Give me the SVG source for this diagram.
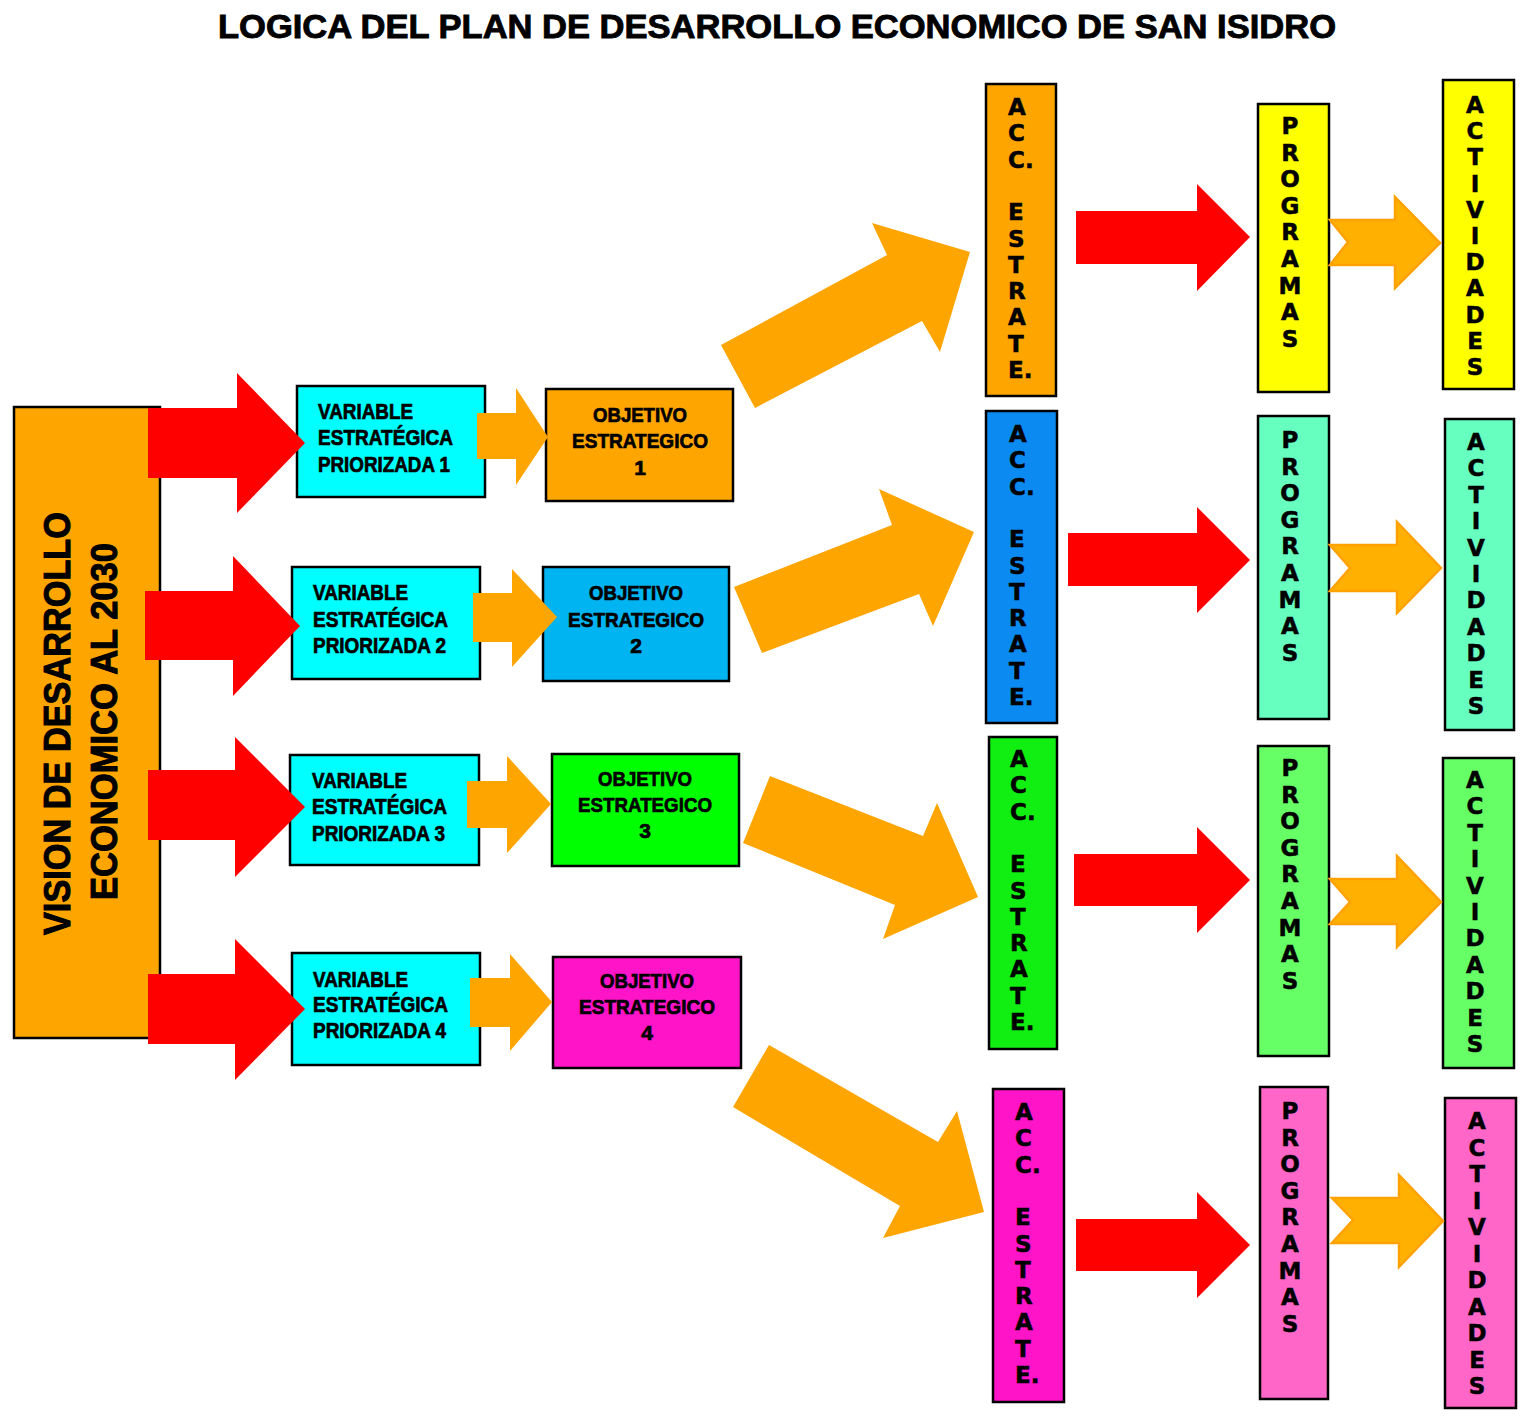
<svg xmlns="http://www.w3.org/2000/svg" width="1536" height="1417" viewBox="0 0 1536 1417">
<style>
.bx{stroke:#000;stroke-width:2.5}
.t{font-family:"Liberation Sans",Arial,sans-serif;font-weight:bold;fill:#000;stroke:#000;stroke-width:0.7}
.v{font-family:"DejaVu Sans",Verdana,sans-serif;font-weight:bold;font-size:23px;fill:#000;stroke:#000;stroke-width:0.5}
.red{fill:#FF0000}
.org{fill:#FFA500}
.chev{fill:#FFB000;stroke:#FFA200;stroke-width:2.5;stroke-linejoin:miter}
</style>
<rect width="1536" height="1417" fill="#fff"/>
<text id="title" class="t" x="218" y="38" font-size="34" textLength="1118" lengthAdjust="spacingAndGlyphs" style="stroke-width:0.9">LOGICA DEL PLAN DE DESARROLLO ECONOMICO DE SAN ISIDRO</text>

<g id="vision">
<rect class="bx" x="14" y="407" width="146" height="631" fill="#FFA500"/>
<text class="t" font-size="37" text-anchor="middle" transform="translate(70,723.5) rotate(-90)" textLength="423" lengthAdjust="spacingAndGlyphs" style="stroke-width:1">VISION DE DESARROLLO</text>
<text class="t" font-size="37" text-anchor="middle" transform="translate(117,721.5) rotate(-90)" textLength="357" lengthAdjust="spacingAndGlyphs" style="stroke-width:1">ECONOMICO AL 2030</text>
</g>

<g id="ve1">
<rect class="bx" x="297" y="386" width="188" height="111" fill="#00FFFF"/>
<text class="t" font-size="22"><tspan x="318" y="419" textLength="95" lengthAdjust="spacingAndGlyphs">VARIABLE</tspan><tspan x="318" y="445" textLength="135" lengthAdjust="spacingAndGlyphs">ESTRATÉGICA</tspan><tspan x="318" y="472" textLength="132" lengthAdjust="spacingAndGlyphs">PRIORIZADA 1</tspan></text>
</g>
<g id="ve2">
<rect class="bx" x="292" y="567" width="188" height="112" fill="#00FFFF"/>
<text class="t" font-size="22"><tspan x="313" y="600" textLength="95" lengthAdjust="spacingAndGlyphs">VARIABLE</tspan><tspan x="313" y="627" textLength="135" lengthAdjust="spacingAndGlyphs">ESTRATÉGICA</tspan><tspan x="313" y="653" textLength="133" lengthAdjust="spacingAndGlyphs">PRIORIZADA 2</tspan></text>
</g>
<g id="ve3">
<rect class="bx" x="290" y="755" width="189" height="110" fill="#00FFFF"/>
<text class="t" font-size="22"><tspan x="312" y="788" textLength="95" lengthAdjust="spacingAndGlyphs">VARIABLE</tspan><tspan x="312" y="814" textLength="135" lengthAdjust="spacingAndGlyphs">ESTRATÉGICA</tspan><tspan x="312" y="841" textLength="133" lengthAdjust="spacingAndGlyphs">PRIORIZADA 3</tspan></text>
</g>
<g id="ve4">
<rect class="bx" x="292" y="953" width="188" height="112" fill="#00FFFF"/>
<text class="t" font-size="22"><tspan x="313" y="987" textLength="95" lengthAdjust="spacingAndGlyphs">VARIABLE</tspan><tspan x="313" y="1012" textLength="135" lengthAdjust="spacingAndGlyphs">ESTRATÉGICA</tspan><tspan x="313" y="1038" textLength="133" lengthAdjust="spacingAndGlyphs">PRIORIZADA 4</tspan></text>
</g>

<g id="oe1">
<rect class="bx" x="546" y="389" width="187" height="112" fill="#FFA500"/>
<text class="t" font-size="21" text-anchor="middle"><tspan x="640" y="422" textLength="94" lengthAdjust="spacingAndGlyphs">OBJETIVO</tspan><tspan x="640" y="448" textLength="136" lengthAdjust="spacingAndGlyphs">ESTRATEGICO</tspan><tspan x="640" y="475">1</tspan></text>
</g>
<g id="oe2">
<rect class="bx" x="543" y="567" width="186" height="114" fill="#00B4F2"/>
<text class="t" font-size="21" text-anchor="middle"><tspan x="636" y="600" textLength="94" lengthAdjust="spacingAndGlyphs">OBJETIVO</tspan><tspan x="636" y="627" textLength="136" lengthAdjust="spacingAndGlyphs">ESTRATEGICO</tspan><tspan x="636" y="653">2</tspan></text>
</g>
<g id="oe3">
<rect class="bx" x="552" y="754" width="187" height="112" fill="#00FF00"/>
<text class="t" font-size="21" text-anchor="middle"><tspan x="645" y="786" textLength="94" lengthAdjust="spacingAndGlyphs">OBJETIVO</tspan><tspan x="645" y="812" textLength="134" lengthAdjust="spacingAndGlyphs">ESTRATEGICO</tspan><tspan x="645" y="838">3</tspan></text>
</g>
<g id="oe4">
<rect class="bx" x="553" y="957" width="188" height="111" fill="#FF14C8"/>
<text class="t" font-size="21" text-anchor="middle"><tspan x="647" y="988" textLength="94" lengthAdjust="spacingAndGlyphs">OBJETIVO</tspan><tspan x="647" y="1014" textLength="136" lengthAdjust="spacingAndGlyphs">ESTRATEGICO</tspan><tspan x="647" y="1040">4</tspan></text>
</g>

<g id="acc1">
<rect class="bx" x="986" y="84" width="70" height="312" fill="#FFA500"/>
<text class="v"><tspan x="1008" y="115">A</tspan><tspan x="1008" dy="26.3">C</tspan><tspan x="1008" dy="26.3">C.</tspan><tspan x="1008" dy="52.6">E</tspan><tspan x="1008" dy="26.3">S</tspan><tspan x="1008" dy="26.3">T</tspan><tspan x="1008" dy="26.3">R</tspan><tspan x="1008" dy="26.3">A</tspan><tspan x="1008" dy="26.3">T</tspan><tspan x="1008" dy="26.3">E.</tspan></text>
</g>
<g id="acc2">
<rect class="bx" x="986" y="411" width="71" height="312" fill="#0B8BF2"/>
<text class="v"><tspan x="1009" y="442">A</tspan><tspan x="1009" dy="26.3">C</tspan><tspan x="1009" dy="26.3">C.</tspan><tspan x="1009" dy="52.6">E</tspan><tspan x="1009" dy="26.3">S</tspan><tspan x="1009" dy="26.3">T</tspan><tspan x="1009" dy="26.3">R</tspan><tspan x="1009" dy="26.3">A</tspan><tspan x="1009" dy="26.3">T</tspan><tspan x="1009" dy="26.3">E.</tspan></text>
</g>
<g id="acc3">
<rect class="bx" x="989" y="737" width="68" height="312" fill="#11EE11"/>
<text class="v"><tspan x="1010" y="767">A</tspan><tspan x="1010" dy="26.3">C</tspan><tspan x="1010" dy="26.3">C.</tspan><tspan x="1010" dy="52.6">E</tspan><tspan x="1010" dy="26.3">S</tspan><tspan x="1010" dy="26.3">T</tspan><tspan x="1010" dy="26.3">R</tspan><tspan x="1010" dy="26.3">A</tspan><tspan x="1010" dy="26.3">T</tspan><tspan x="1010" dy="26.3">E.</tspan></text>
</g>
<g id="acc4">
<rect class="bx" x="993" y="1089" width="71" height="313" fill="#FF14C8"/>
<text class="v"><tspan x="1015" y="1120">A</tspan><tspan x="1015" dy="26.3">C</tspan><tspan x="1015" dy="26.3">C.</tspan><tspan x="1015" dy="52.6">E</tspan><tspan x="1015" dy="26.3">S</tspan><tspan x="1015" dy="26.3">T</tspan><tspan x="1015" dy="26.3">R</tspan><tspan x="1015" dy="26.3">A</tspan><tspan x="1015" dy="26.3">T</tspan><tspan x="1015" dy="26.3">E.</tspan></text>
</g>

<g id="prog1">
<rect class="bx" x="1258" y="104" width="71" height="288" fill="#FFFF00"/>
<text class="v" text-anchor="middle"><tspan x="1290" y="134">P</tspan><tspan x="1290" dy="26.6">R</tspan><tspan x="1290" dy="26.6">O</tspan><tspan x="1290" dy="26.6">G</tspan><tspan x="1290" dy="26.6">R</tspan><tspan x="1290" dy="26.6">A</tspan><tspan x="1290" dy="26.6">M</tspan><tspan x="1290" dy="26.6">A</tspan><tspan x="1290" dy="26.6">S</tspan></text>
</g>
<g id="prog2">
<rect class="bx" x="1258" y="416" width="71" height="303" fill="#66FFC0"/>
<text class="v" text-anchor="middle"><tspan x="1290" y="448">P</tspan><tspan x="1290" dy="26.6">R</tspan><tspan x="1290" dy="26.6">O</tspan><tspan x="1290" dy="26.6">G</tspan><tspan x="1290" dy="26.6">R</tspan><tspan x="1290" dy="26.6">A</tspan><tspan x="1290" dy="26.6">M</tspan><tspan x="1290" dy="26.6">A</tspan><tspan x="1290" dy="26.6">S</tspan></text>
</g>
<g id="prog3">
<rect class="bx" x="1258" y="746" width="71" height="310" fill="#66FF66"/>
<text class="v" text-anchor="middle"><tspan x="1290" y="776">P</tspan><tspan x="1290" dy="26.6">R</tspan><tspan x="1290" dy="26.6">O</tspan><tspan x="1290" dy="26.6">G</tspan><tspan x="1290" dy="26.6">R</tspan><tspan x="1290" dy="26.6">A</tspan><tspan x="1290" dy="26.6">M</tspan><tspan x="1290" dy="26.6">A</tspan><tspan x="1290" dy="26.6">S</tspan></text>
</g>
<g id="prog4">
<rect class="bx" x="1260" y="1087" width="68" height="312" fill="#FF66C8"/>
<text class="v" text-anchor="middle"><tspan x="1290" y="1119">P</tspan><tspan x="1290" dy="26.6">R</tspan><tspan x="1290" dy="26.6">O</tspan><tspan x="1290" dy="26.6">G</tspan><tspan x="1290" dy="26.6">R</tspan><tspan x="1290" dy="26.6">A</tspan><tspan x="1290" dy="26.6">M</tspan><tspan x="1290" dy="26.6">A</tspan><tspan x="1290" dy="26.6">S</tspan></text>
</g>

<g id="act1">
<rect class="bx" x="1443" y="80" width="71" height="309" fill="#FFFF00"/>
<text class="v" text-anchor="middle"><tspan x="1475" y="113">A</tspan><tspan x="1475" dy="26.2">C</tspan><tspan x="1475" dy="26.2">T</tspan><tspan x="1475" dy="26.2">I</tspan><tspan x="1475" dy="26.2">V</tspan><tspan x="1475" dy="26.2">I</tspan><tspan x="1475" dy="26.2">D</tspan><tspan x="1475" dy="26.2">A</tspan><tspan x="1475" dy="26.2">D</tspan><tspan x="1475" dy="26.2">E</tspan><tspan x="1475" dy="26.2">S</tspan></text>
</g>
<g id="act2">
<rect class="bx" x="1445" y="419" width="69" height="311" fill="#66FFC0"/>
<text class="v" text-anchor="middle"><tspan x="1476" y="450">A</tspan><tspan x="1476" dy="26.4">C</tspan><tspan x="1476" dy="26.4">T</tspan><tspan x="1476" dy="26.4">I</tspan><tspan x="1476" dy="26.4">V</tspan><tspan x="1476" dy="26.4">I</tspan><tspan x="1476" dy="26.4">D</tspan><tspan x="1476" dy="26.4">A</tspan><tspan x="1476" dy="26.4">D</tspan><tspan x="1476" dy="26.4">E</tspan><tspan x="1476" dy="26.4">S</tspan></text>
</g>
<g id="act3">
<rect class="bx" x="1443" y="758" width="71" height="310" fill="#66FF66"/>
<text class="v" text-anchor="middle"><tspan x="1475" y="788">A</tspan><tspan x="1475" dy="26.4">C</tspan><tspan x="1475" dy="26.4">T</tspan><tspan x="1475" dy="26.4">I</tspan><tspan x="1475" dy="26.4">V</tspan><tspan x="1475" dy="26.4">I</tspan><tspan x="1475" dy="26.4">D</tspan><tspan x="1475" dy="26.4">A</tspan><tspan x="1475" dy="26.4">D</tspan><tspan x="1475" dy="26.4">E</tspan><tspan x="1475" dy="26.4">S</tspan></text>
</g>
<g id="act4">
<rect class="bx" x="1445" y="1098" width="71" height="310" fill="#FF66C8"/>
<text class="v" text-anchor="middle"><tspan x="1477" y="1129">A</tspan><tspan x="1477" dy="26.5">C</tspan><tspan x="1477" dy="26.5">T</tspan><tspan x="1477" dy="26.5">I</tspan><tspan x="1477" dy="26.5">V</tspan><tspan x="1477" dy="26.5">I</tspan><tspan x="1477" dy="26.5">D</tspan><tspan x="1477" dy="26.5">A</tspan><tspan x="1477" dy="26.5">D</tspan><tspan x="1477" dy="26.5">E</tspan><tspan x="1477" dy="26.5">S</tspan></text>
</g>

<g id="connectors">
<polygon class="red" points="148,408 237,408 237,373 305,443 237,513 237,478 148,478"/>
<polygon class="red" points="145,591 233,591 233,556 300,626 233,696 233,660 145,660"/>
<polygon class="red" points="148,770 235,770 235,737 305,807 235,877 235,840 148,840"/>
<polygon class="red" points="148,974 235,974 235,939 305,1009 235,1080 235,1044 148,1044"/>

<polygon class="org" points="477,413 516,413 516,388 548,437 516,485 516,459 477,459"/>
<polygon class="org" points="473,593 512,593 512,569 557,617 512,667 512,642 473,642"/>
<polygon class="org" points="467,781 507,781 507,756 551,804 507,853 507,828 467,828"/>
<polygon class="org" points="470,978 510,978 510,954 552,1002 510,1051 510,1027 470,1027"/>

<polygon class="org" points="721,345 887,255 872,223 970,252 940,352 922,321 755,408"/>
<polygon class="org" points="734,587 892,525 879,489 974,532 933,626 919,594 762,653"/>
<polygon class="org" points="770,776 923,836 937,803 978,897 883,939 895,905 743,843"/>
<polygon class="org" points="769,1045 938,1142 957,1111 984,1212 883,1238 900,1206 733,1107"/>

<polygon class="red" points="1076,211 1197,211 1197,184 1250,237 1197,291 1197,264 1076,264"/>
<polygon class="red" points="1068,533 1197,533 1197,507 1250,560 1197,613 1197,586 1068,586"/>
<polygon class="red" points="1074,854 1197,854 1197,827 1250,880 1197,933 1197,906 1074,906"/>
<polygon class="red" points="1076,1219 1197,1219 1197,1192 1250,1245 1197,1298 1197,1271 1076,1271"/>

<polygon class="chev" points="1330,220 1395,220 1395,197 1440,243 1395,288 1395,265 1330,265 1348,242"/>
<polygon class="chev" points="1330,545 1397,545 1397,522 1441,568 1397,613 1397,591 1330,591 1350,568"/>
<polygon class="chev" points="1330,879 1397,879 1397,856 1441,902 1397,947 1397,924 1330,924 1350,902"/>
<polygon class="chev" points="1332,1198 1399,1198 1399,1175 1443,1221 1399,1267 1399,1243 1332,1243 1353,1220"/>
</g>
</svg>
